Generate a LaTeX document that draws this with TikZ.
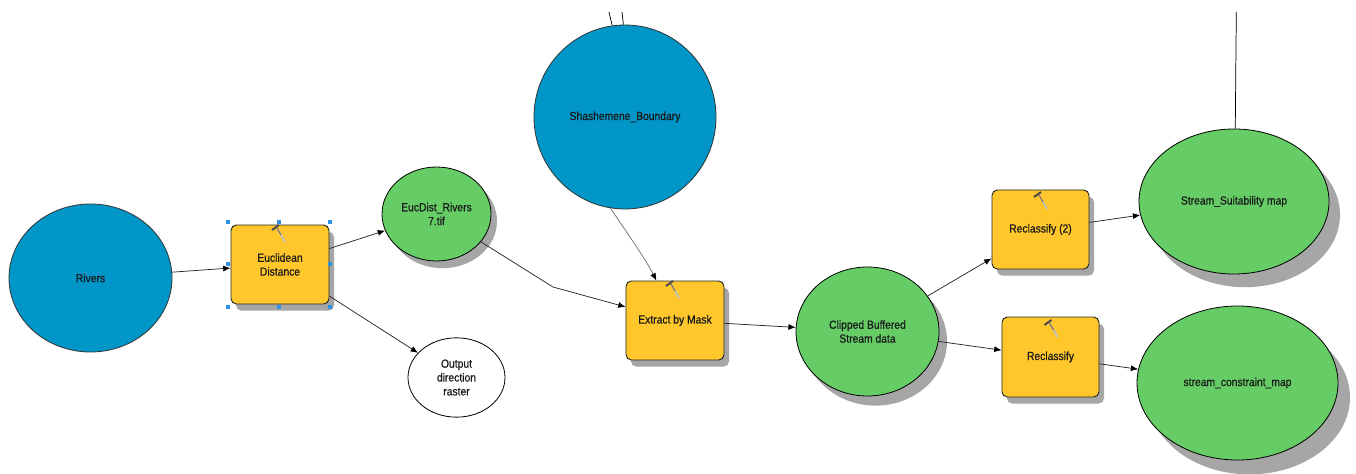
\documentclass[tikz,border=0pt]{standalone}
\usepackage{fontspec}
\setmainfont[FakeBold=0.5,FakeStretch=0.88]{Liberation Sans}
\usetikzlibrary{arrows.meta,shadows,shapes.geometric}
\definecolor{toolc}{HTML}{FFC72C}
\definecolor{datac}{HTML}{66CC66}
\definecolor{srcc}{HTML}{0096C8}
\definecolor{shadc}{HTML}{A6A6A6}
\definecolor{handc}{HTML}{2F8FE0}
\tikzset{
 x=0.75pt,y=-0.75pt,
 lbl/.style={font=\fontsize{8.8pt}{10.4pt}\selectfont,align=center,text=black!90,inner sep=0pt},
 toolbox/.style={lbl,rectangle,rounded corners=4pt,draw=black!85,line width=0.7pt,fill=toolc,
   drop shadow={shadow xshift=3.75pt,shadow yshift=-5pt,fill=shadc,opacity=1}},
 srcnode/.style={lbl,ellipse,draw=black!80,line width=0.6pt,fill=srcc},
 dat/.style={lbl,ellipse,draw=black,line width=0.6pt,fill=datac,
   drop shadow={shadow xshift=#1*0.75pt,shadow yshift=-#1*0.9pt,fill=shadc,opacity=1}},
 outnode/.style={lbl,ellipse,draw=black,line width=0.6pt,fill=white},
 conn/.style={draw=black!85,line width=0.55pt,-{Latex[length=5.5pt,width=4.5pt,color=black]}},
 thinconn/.style={draw=black!60,line width=0.5pt,-{Latex[length=5.5pt,width=4.5pt,color=black]}},
 plain/.style={draw=black,line width=0.55pt},
 handle/.style={fill=handc,draw=none,minimum size=2.5pt,inner sep=0pt,rectangle}
}
\newcommand{\hammer}[2]{%
 \begin{scope}[shift={(#1,#2)}]
  \draw[line width=1.3pt,draw=black!25] (0,-5) -- (8,9);
  \draw[line width=0.6pt,draw=brown!70!black] (0,-5) -- (4,2);
  \draw[line width=1.5pt,draw=black!70] (-5,-3) -- (2,-8);
 \end{scope}}
\begin{document}
\begin{tikzpicture}
\useasboundingbox (0,0) rectangle (1356,474);
\fill[white] (0,0) rectangle (1356,474);
% sources
\node[srcnode,minimum width=122.25pt,minimum height=111pt] (rivers) at (90.5,278) {Rivers};
\node[srcnode,minimum width=136.5pt,minimum height=138pt] (shash) at (625,117) {Shashemene\_Boundary};
% data
\node[dat=6,minimum width=81.75pt,minimum height=70.5pt] (eucd) at (436.5,214) {EucDist\_Rivers\\7.tif};
\node[outnode,minimum width=72.75pt,minimum height=59.5pt] (outp) at (456.5,377.5) {Output\\direction\\raster};
\node[dat=8,minimum width=107.25pt,minimum height=96.75pt] (clip) at (867.5,331.5) {Clipped Buffered\\Stream data};
\node[dat=11,minimum width=142.5pt,minimum height=108.75pt] (suit) at (1234,201.5) {Stream\_Suitability map};
\node[dat=12,minimum width=150.75pt,minimum height=115.5pt] (cons) at (1237.5,383) {stream\_constraint\_map};
% tools
\node[toolbox,minimum width=73.5pt,minimum height=59.25pt] (euc) at (280,264.5) {Euclidean\\Distance};
\node[toolbox,minimum width=73.5pt,minimum height=59.25pt] (ext) at (675,320.5) {Extract by Mask};
\node[toolbox,minimum width=72.75pt,minimum height=59.25pt] (rec2) at (1040.5,229.5) {Reclassify (2)};
\node[toolbox,minimum width=72.75pt,minimum height=60pt] (rec) at (1050.5,357) {Reclassify};
% hammers
\hammer{277}{233}
\hammer{671}{289}
\hammer{1039}{200}
\hammer{1049.5}{328}
% handles
\foreach \hx/\hy [count=\i] in {228/222,279/222,330/222,228/264,330/264,228/307,279/307,330/307}
  \node[handle] (h\i) at (\hx,\hy) {};
% connectors
\draw[conn] (rivers) -- (euc);
\draw[conn] (euc) -- (eucd);
\draw[conn] (euc) -- (outp);
\coordinate (bend) at (553,287);
\draw[conn] (eucd) -- (bend) -- (ext);
\draw[thinconn] (shash.261) .. controls (627,233) and (645,258) .. (ext.115.7);
\draw[conn] (ext) -- (clip);
\draw[conn] (clip) -- (rec2);
\draw[conn] (clip) -- (rec);
\draw[conn] (rec2) -- (suit);
\draw[conn] (rec) -- (cons);
\coordinate (p1) at (609,12);
\draw[plain] (p1) -- (shash.98);
\coordinate (q1) at (622,12);
\draw[plain] (q1) -- (shash.91);
\coordinate (r1) at (1236.3,12);
\draw[plain] (r1) -- (suit.89);
\end{tikzpicture}
\end{document}
